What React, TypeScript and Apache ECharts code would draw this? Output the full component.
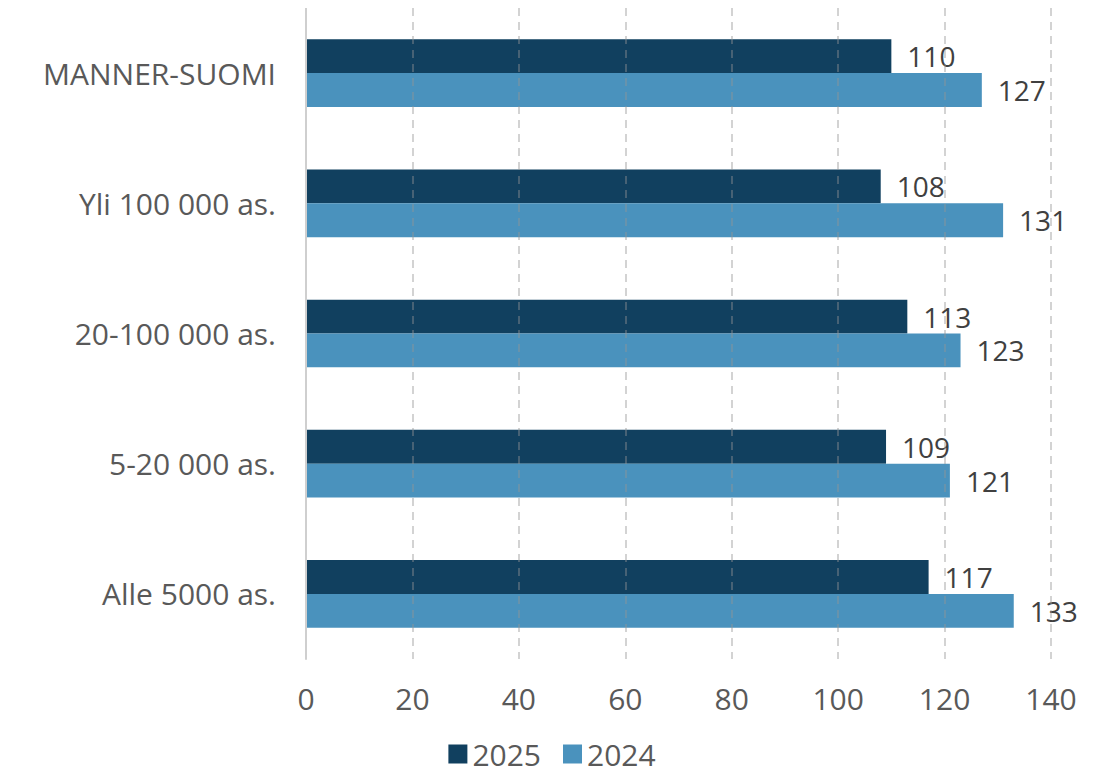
import React, { useEffect, useRef } from "react";
import * as echarts from "echarts";

const categories = ["MANNER-SUOMI", "Yli 100 000 as.", "20-100 000 as.", "5-20 000 as.", "Alle 5000 as."];
const values2025 = [110, 108, 113, 109, 117];
const values2024 = [127, 131, 123, 121, 133];
const xTicks = { min: 0, max: 140, interval: 20 };

const FONT = "'Open Sans', 'Noto Sans', sans-serif";

export default function App() {
  const ref = useRef<HTMLDivElement>(null);
  useEffect(() => {
    if (!ref.current) return;
    const chart = echarts.init(ref.current, null, { renderer: "svg" });
    chart.setOption({
      animation: false,
      textStyle: { fontFamily: FONT },
      grid: { left: 298, right: 45, top: 0, height: 651, containLabel: false },
      legend: {
        top: 730,
        left: "center",
        padding: 0,
        itemWidth: 19,
        itemHeight: 19,
        itemGap: 22,
        icon: "rect",
        textStyle: { fontSize: 30, lineHeight: 32, color: "#595959", fontFamily: FONT },
        data: ["2025", "2024"],
      },
      xAxis: {
        type: "value",
        min: xTicks.min,
        max: xTicks.max,
        interval: xTicks.interval,
        z: 5,
        axisLine: { show: false },
        axisTick: { show: false },
        axisLabel: { fontSize: 30, color: "#595959", margin: 24, fontFamily: FONT },
        splitLine: { show: true, lineStyle: { type: [8, 6], color: "rgba(150,150,150,0.55)", width: 1.5 } },
      },
      yAxis: {
        type: "category",
        data: categories,
        inverse: true,
        z: 5,
        axisLine: { show: true, lineStyle: { color: "#cfcfcf", width: 2 } },
        axisTick: { show: false },
        axisLabel: { fontSize: 30, color: "#595959", margin: 30, fontFamily: FONT },
      },
      series: [
        {
          name: "2025",
          type: "bar",
          data: values2025,
          barGap: "0%",
          barCategoryGap: "48%",
          itemStyle: { color: "#11405F" },
          label: { show: true, position: "right", distance: 16, fontSize: 28, color: "#404040", fontFamily: FONT },
        },
        {
          name: "2024",
          type: "bar",
          data: values2024,
          barGap: "0%",
          barCategoryGap: "48%",
          itemStyle: { color: "#4A92BD" },
          label: { show: true, position: "right", distance: 16, fontSize: 28, color: "#404040", fontFamily: FONT },
        },
      ],
    });
    return () => chart.dispose();
  }, []);
  return <div ref={ref} style={{ width: 1088, height: 765 }} />;
}
